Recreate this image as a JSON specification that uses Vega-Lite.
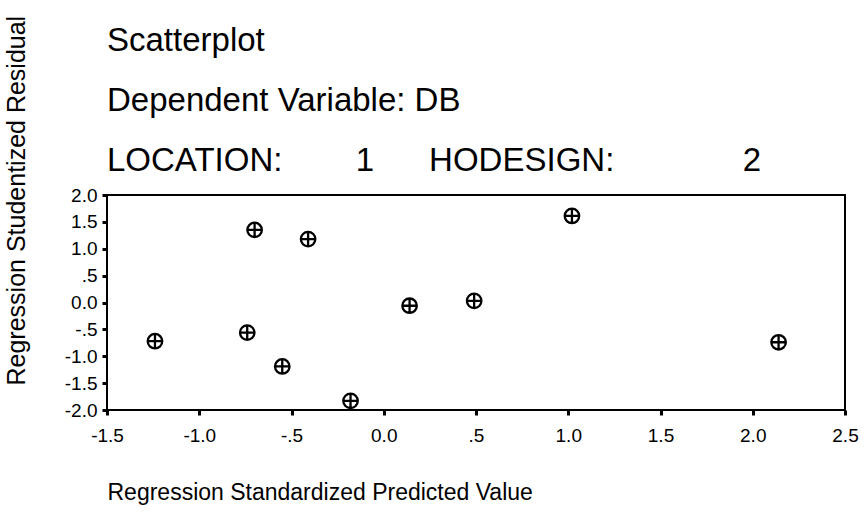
{
  "$schema": "https://vega.github.io/schema/vega-lite/v6.json",
  "width": 738,
  "height": 215,
  "autosize": "none",
  "padding": {"left": 107, "top": 195, "right": 19, "bottom": 103},
  "background": "white",
  "config": {
    "font": "Liberation Sans",
    "view": {"stroke": "black", "strokeWidth": 2}
  },
  "title": {
    "text": ["Scatterplot", "Dependent Variable: DB", "LOCATION:\u00a0\u00a0\u00a0\u00a0\u00a0\u00a0\u00a0\u00a01\u00a0\u00a0\u00a0\u00a0\u00a0\u00a0HODESIGN:\u00a0\u00a0\u00a0\u00a0\u00a0\u00a0\u00a0\u00a0\u00a0\u00a0\u00a0\u00a0\u00a0\u00a02"],
    "anchor": "start",
    "frame": "group",
    "font": "Liberation Sans",
    "fontSize": 33,
    "fontWeight": "normal",
    "color": "black",
    "lineHeight": 60,
    "offset": -163
  },
  "data": {
    "values": [
      {"pred": -1.24, "resid": -0.72},
      {"pred": -0.70, "resid": 1.35},
      {"pred": -0.41, "resid": 1.18},
      {"pred": -0.74, "resid": -0.56},
      {"pred": -0.55, "resid": -1.19},
      {"pred": -0.18, "resid": -1.83},
      {"pred": 0.14, "resid": -0.06},
      {"pred": 0.49, "resid": 0.03},
      {"pred": 1.02, "resid": 1.61},
      {"pred": 2.14, "resid": -0.74}
    ]
  },
  "mark": {
    "type": "point",
    "shape": "M-1,0A1,1 0 1,0 1,0A1,1 0 1,0 -1,0M-1,0L1,0M0,-1L0,1",
    "size": 210,
    "filled": false,
    "stroke": "black",
    "strokeWidth": 2.3,
    "opacity": 1
  },
  "encoding": {
    "x": {
      "field": "pred",
      "type": "quantitative",
      "scale": {"domain": [-1.5, 2.5], "nice": false, "zero": false},
      "axis": {
        "title": "Regression Standardized Predicted Value",
        "titleFont": "Liberation Sans",
        "titleFontSize": 23,
        "titleFontWeight": "normal",
        "titleColor": "black",
        "titleAnchor": "start",
        "titleAlign": "left",
        "titlePadding": 36,
        "values": [-1.5, -1, -0.5, 0, 0.5, 1, 1.5, 2, 2.5],
        "labelExpr": "datum.value == 0.5 ? '.5' : datum.value == -0.5 ? '-.5' : datum.value < 0 ? '-' + format(-datum.value, '.1f') : format(datum.value, '.1f')",
        "labelFont": "Liberation Sans",
        "labelFontSize": 19,
        "labelColor": "black",
        "labelPadding": 11,
        "labelOverlap": false,
        "labelFlush": false,
        "grid": false,
        "domain": false,
        "tickColor": "black",
        "tickWidth": 3,
        "tickSize": 5
      }
    },
    "y": {
      "field": "resid",
      "type": "quantitative",
      "scale": {"domain": [-2, 2], "nice": false, "zero": false},
      "axis": {
        "title": "Regression Studentized Residual",
        "titleFont": "Liberation Sans",
        "titleFontSize": 25,
        "titleFontWeight": "normal",
        "titleColor": "black",
        "titleAngle": -90,
        "titleAlign": "left",
        "titleBaseline": "alphabetic",
        "titleX": -83,
        "titleY": 190,
        "values": [-2, -1.5, -1, -0.5, 0, 0.5, 1, 1.5, 2],
        "labelExpr": "datum.value == 0.5 ? '.5' : datum.value == -0.5 ? '-.5' : datum.value < 0 ? '-' + format(-datum.value, '.1f') : format(datum.value, '.1f')",
        "labelFont": "Liberation Sans",
        "labelFontSize": 19,
        "labelColor": "black",
        "labelPadding": 5,
        "labelOverlap": false,
        "labelFlush": false,
        "grid": false,
        "domain": false,
        "tickColor": "black",
        "tickWidth": 3,
        "tickSize": 5
      }
    }
  }
}
